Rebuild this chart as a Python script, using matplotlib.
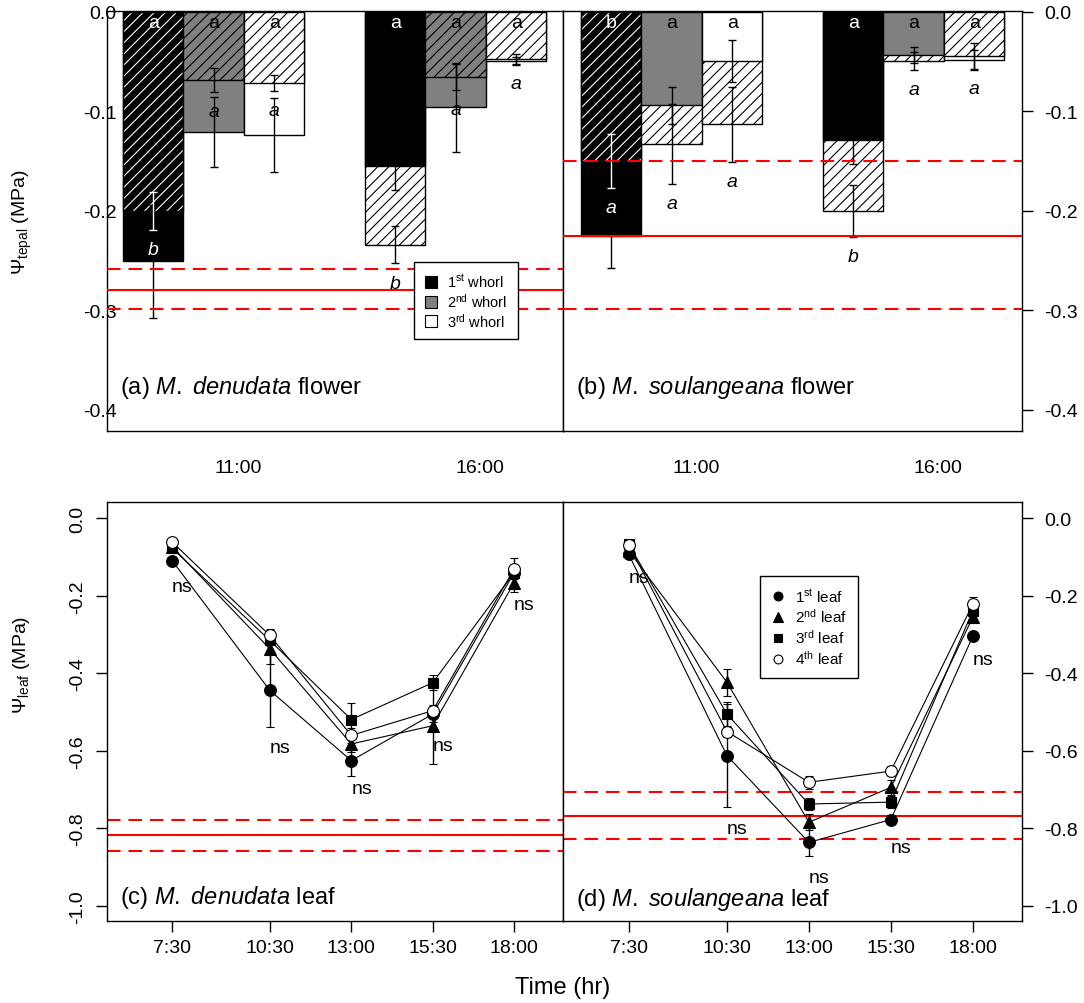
import numpy as np
import matplotlib
matplotlib.use("Agg")
import matplotlib.pyplot as plt
from matplotlib.lines import Line2D
from matplotlib.transforms import blended_transform_factory

plt.rcParams['font.family'] = ['Liberation Sans', 'DejaVu Sans']
plt.rcParams['mathtext.fontset'] = 'custom'
plt.rcParams['mathtext.rm'] = 'Liberation Sans'
plt.rcParams['mathtext.it'] = 'Liberation Sans:italic'
plt.rcParams['hatch.linewidth'] = 0.8

# ---- flower (tepal) data: [11:00, 16:00] x [1st, 2nd, 3rd whorl]
bar_times = ['11:00', '16:00']
whorls = ['1$^{\\rm st}$ whorl', '2$^{\\rm nd}$ whorl', '3$^{\\rm rd}$ whorl']

a_solid = [[-0.251, -0.121, -0.124], [-0.155, -0.096, -0.049]]
a_solid_se = [[0.057, 0.035, 0.037], [0.024, 0.045, 0.004]]
a_hatch = [[-0.200, -0.068, -0.071], [-0.234, -0.065, -0.047]]
a_hatch_se = [[0.019, 0.012, 0.008], [0.019, 0.013, 0.005]]
a_up = [['a', 'a', 'a'], ['a', 'a', 'a']]
a_it = [['b', 'a', 'a'], ['b', 'a', 'a']]
a_ref = [-0.280, -0.259, -0.299]

b_solid = [[-0.225, -0.094, -0.049], [-0.129, -0.043, -0.048]]
b_solid_se = [[0.033, 0.019, 0.021], [0.024, 0.008, 0.010]]
b_hatch = [[-0.150, -0.133, -0.113], [-0.200, -0.049, -0.044]]
b_hatch_se = [[0.027, 0.040, 0.038], [0.026, 0.009, 0.013]]
b_up = [['b', 'a', 'a'], ['a', 'a', 'a']]
b_it = [['a', 'a', 'a'], ['b', 'a', 'a']]
b_ref = [-0.225, -0.150, -0.299]

# ---- leaf data
hours = [7.5, 10.5, 13.0, 15.5, 18.0]
hour_labels = ['7:30', '10:30', '13:00', '15:30', '18:00']
leaf_names = ['1$^{\\rm st}$ leaf', '2$^{\\rm nd}$ leaf', '3$^{\\rm rd}$ leaf', '4$^{\\rm th}$ leaf']

c_leaf = [[-0.109, -0.444, -0.625, -0.505, -0.140],
          [-0.073, -0.337, -0.582, -0.535, -0.166],
          [-0.077, -0.315, -0.519, -0.424, -0.140],
          [-0.061, -0.302, -0.560, -0.496, -0.130]]
c_se = [[0.010, 0.093, 0.040, 0.020, 0.015],
        [0.008, 0.040, 0.020, 0.100, 0.024],
        [0.008, 0.030, 0.043, 0.020, 0.015],
        [0.008, 0.015, 0.020, 0.015, 0.027]]
c_ns = [-0.177, -0.590, -0.698, -0.587, -0.223]
c_ref = [-0.817, -0.778, -0.857]

d_leaf = [[-0.092, -0.612, -0.836, -0.777, -0.304],
          [-0.083, -0.423, -0.784, -0.694, -0.255],
          [-0.066, -0.505, -0.737, -0.732, -0.238],
          [-0.068, -0.550, -0.681, -0.652, -0.221]]
d_se = [[0.008, 0.133, 0.036, 0.012, 0.010],
        [0.008, 0.035, 0.021, 0.020, 0.012],
        [0.008, 0.032, 0.015, 0.015, 0.010],
        [0.008, 0.015, 0.016, 0.012, 0.017]]
d_ns = [-0.152, -0.800, -0.926, -0.849, -0.363]
d_ref = [-0.767, -0.707, -0.827]

W, H = 1084, 1004
fig = plt.figure(figsize=(W / 100, H / 100), dpi=100)

ax_a = fig.add_axes([107 / W, 1 - 432 / H, 456 / W, 420 / H])
ax_b = fig.add_axes([563 / W, 1 - 432 / H, 459 / W, 420 / H])
ax_c = fig.add_axes([107 / W, 1 - 921.7 / H, 456 / W, 419 / H])
ax_d = fig.add_axes([563 / W, 1 - 921.7 / H, 459 / W, 419 / H])

fills = ['black', '#808080', 'white']
xpos = [[1, 2, 3], [5, 6, 7]]


def ref_lines(ax, ref, z):
    ax.axhline(ref[0], color='red', lw=1.5, zorder=z)
    for v in ref[1:]:
        ax.axhline(v, color='red', lw=1.5, dashes=(6.5, 3.8), zorder=z)


def one_bar(ax, x, v, fill, hatched, hcol):
    if hatched:
        ax.bar(x, v, width=1, color=fill, edgecolor=hcol, hatch='///', linewidth=0, zorder=2)
    else:
        ax.bar(x, v, width=1, color=fill, linewidth=0, zorder=2)
    ax.bar(x, v, width=1, fill=False, edgecolor='black', linewidth=1, zorder=2)


def bar_panel(ax, solid, solid_se, hatch, hatch_se, up, it, ref):
    ref_lines(ax, ref, 3.5)
    for g in range(2):
        for w in range(3):
            x = xpos[g][w]
            s, h = solid[g][w], hatch[g][w]
            if h < s:
                # hatched value is longer: draw it first, plain background
                one_bar(ax, x, h, 'white', True, 'black')
                one_bar(ax, x, s, fills[w], False, None)
                hatch_err = 'black'
            else:
                one_bar(ax, x, s, fills[w], False, None)
                one_bar(ax, x, h, fills[w], True, 'white' if w == 0 else 'black')
                hatch_err = 'white' if w == 0 else 'black'
            ax.errorbar(x, s, yerr=solid_se[g][w], fmt='none', ecolor='black',
                        elinewidth=1, capsize=3, capthick=1, zorder=3)
            ax.errorbar(x, h, yerr=hatch_se[g][w], fmt='none', ecolor=hatch_err,
                        elinewidth=1, capsize=3, capthick=1, zorder=3)
            ax.text(x, -0.011, up[g][w], ha='center', va='center', fontsize=14,
                    color='white' if w == 0 else 'black', zorder=4)
            ly = h - hatch_se[g][w] - 0.02
            ax.text(x, ly, it[g][w], ha='center', va='center', fontsize=14,
                    fontstyle='italic',
                    color='white' if (w == 0 and ly > s) else 'black', zorder=4)
    ax.set_ylim(-0.4216, 0.001)
    ax.set_xticks([])
    tr = blended_transform_factory(ax.transData, ax.transAxes)
    for lab, xx in zip(bar_times, [2.4, 6.4]):
        ax.text(xx, -0.086, lab, transform=tr, ha='center', va='center', fontsize=14)


bar_panel(ax_a, a_solid, a_solid_se, a_hatch, a_hatch_se, a_up, a_it, a_ref)
bar_panel(ax_b, b_solid, b_solid_se, b_hatch, b_hatch_se, b_up, b_it, b_ref)
ax_a.set_xlim(0.2355, 7.773)
ax_b.set_xlim(0.2025, 7.79)

yt = [0.0, -0.1, -0.2, -0.3, -0.4]
ax_a.set_yticks(yt)
ax_a.set_yticklabels(['%.1f' % v for v in yt])
ax_a.tick_params(axis='y', length=0, pad=-7, labelsize=14)
ax_b.yaxis.tick_right()
ax_b.set_yticks(yt)
ax_b.set_yticklabels(['%.1f' % v for v in yt])
ax_b.tick_params(axis='y', length=8, width=1, pad=8, labelsize=14)

leg_a = [Line2D([], [], ls='none', marker='s', markersize=8, markerfacecolor=f,
                markeredgecolor='black', markeredgewidth=0.8) for f in fills]
lg = ax_a.legend(leg_a, whorls, loc='upper left', bbox_to_anchor=(0.673, 0.402),
                 fontsize=10.5, frameon=True, fancybox=False, edgecolor='black',
                 framealpha=1, handlelength=1.0, handletextpad=0.6, labelspacing=0.12,
                 borderpad=0.7, borderaxespad=0)
lg.get_frame().set_linewidth(1)
lg.set_zorder(5)

ax_a.text(0.029, 0.105, r'(a) $\mathit{M.\ denudata}$ flower', transform=ax_a.transAxes,
          fontsize=17, va='center', ha='left')
ax_b.text(0.028, 0.105, r'(b) $\mathit{M.\ soulangeana}$ flower', transform=ax_b.transAxes,
          fontsize=17, va='center', ha='left')

# ---- leaf panels
markers = [dict(marker='o', mfc='black', ms=8.5),
           dict(marker='^', mfc='black', ms=9),
           dict(marker='s', mfc='black', ms=7.5),
           dict(marker='o', mfc='white', ms=8.5)]


def leaf_panel(ax, data, se, ns, ref):
    ref_lines(ax, ref, 2)
    for k in range(4):
        ax.errorbar(hours, data[k], yerr=se[k], color='black', lw=0.8,
                    elinewidth=1, capsize=3, capthick=1, mec='black', mew=0.8,
                    zorder=3 + k, **markers[k])
    for t, y in zip(hours, ns):
        ax.text(t, y, 'ns', ha='left', va='center', fontsize=14, zorder=10)
    ax.set_xlim(5.5, 19.5)
    ax.set_ylim(-1.038, 0.043)
    ax.set_xticks(hours)
    ax.set_xticklabels(hour_labels)
    ax.set_yticks([0.0, -0.2, -0.4, -0.6, -0.8, -1.0])
    ax.set_yticklabels(['0.0', '-0.2', '-0.4', '-0.6', '-0.8', '-1.0'])
    ax.tick_params(length=8, width=1, labelsize=14)
    ax.tick_params(axis='x', pad=5)


leaf_panel(ax_c, c_leaf, c_se, c_ns, c_ref)
leaf_panel(ax_d, d_leaf, d_se, d_ns, d_ref)
ax_c.tick_params(axis='y', labelrotation=90, pad=7)
for lab in ax_c.get_yticklabels():
    lab.set_va('center')
ax_d.yaxis.tick_right()
ax_d.tick_params(axis='y', pad=8)

leg_d = [Line2D([], [], ls='none', marker=m['marker'], markersize=m['ms'] * 0.75,
                markerfacecolor=m['mfc'], markeredgecolor='black', markeredgewidth=0.8)
         for m in markers]
lg2 = ax_d.legend(leg_d, leaf_names, loc='upper left', bbox_to_anchor=(0.429, 0.823),
                  fontsize=11, frameon=True, fancybox=False, edgecolor='black',
                  framealpha=1, handlelength=1.0, handletextpad=0.6, labelspacing=0.2,
                  borderpad=0.7, borderaxespad=0)
lg2.get_frame().set_linewidth(1)
lg2.set_zorder(12)

ax_c.text(0.029, 0.057, r'(c) $\mathit{M.\ denudata}$ leaf', transform=ax_c.transAxes,
          fontsize=17, va='center', ha='left')
ax_d.text(0.028, 0.054, r'(d) $\mathit{M.\ soulangeana}$ leaf', transform=ax_d.transAxes,
          fontsize=17, va='center', ha='left')

for ax in (ax_a, ax_b, ax_c, ax_d):
    for sp in ax.spines.values():
        sp.set_linewidth(1)

fig.text(22 / W, 1 - 222 / H, r'$\Psi_{\rm tepal}$ (MPa)', rotation=90,
         ha='center', va='center', fontsize=14)
fig.text(22 / W, 1 - 665 / H, r'$\Psi_{\rm leaf}$ (MPa)', rotation=90,
         ha='center', va='center', fontsize=14)
fig.text(563 / W, 1 - 988 / H, 'Time (hr)', ha='center', va='center', fontsize=17)

fig.savefig('out.png', dpi=100)
